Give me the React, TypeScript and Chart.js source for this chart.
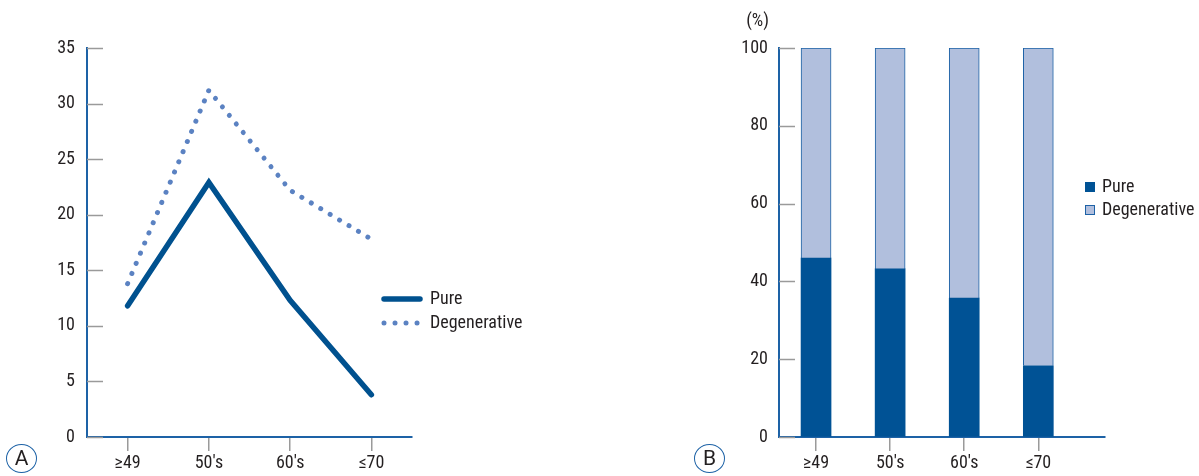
import React, { useEffect, useRef } from "react";
import { Chart, registerables } from "chart.js";

Chart.register(...registerables);

// ---------- data ----------
const categories = ["≥49", "50's", "60's", "≤70"];
const pureRate = [11.8, 22.9, 12.3, 3.8];
const degenerativeRate = [13.8, 31.2, 22.2, 17.8];
const rateTicks = { min: 0, max: 35, step: 5 };

const pureShare = [46.0, 43.2, 35.7, 18.3];
const degenerativeShare = [54.0, 56.8, 64.3, 81.7];
const shareTicks = { min: 0, max: 100, step: 20 };
const shareUnit = "(%)";

// ---------- style ----------
const FONT = "'Liberation Sans Narrow', 'Roboto Condensed', 'Arial Narrow', Roboto, sans-serif";
const TEXT = "#231f20";
const AXIS_BLUE = "#1d62a6";
const TICK_GRAY = "#9a9a9a";
const PURE_BLUE = "#00518f";
const DEGEN_LINE = "#5b82c2";
const BAR_PURE = "#005295";
const BAR_DEGEN = "#b1bfdd";
const fontSpec = { family: FONT, size: 18 };

const innerTicks = {
  id: "innerTicks",
  beforeDatasetsDraw(chart: any) {
    const y = chart.scales.y;
    const ctx = chart.ctx;
    ctx.save();
    ctx.strokeStyle = TICK_GRAY;
    ctx.lineWidth = 1.5;
    y.ticks.forEach((t: any) => {
      const py = Math.round(y.getPixelForValue(t.value)) + 0.5;
      ctx.beginPath();
      ctx.moveTo(chart.chartArea.left, py);
      ctx.lineTo(chart.chartArea.left + 16, py);
      ctx.stroke();
    });
    ctx.restore();
  },
};

const lineLegend = {
  id: "lineLegend",
  afterDraw(chart: any) {
    const ctx = chart.ctx;
    const { right, top } = chart.chartArea;
    ctx.save();
    chart.data.datasets.forEach((ds: any, i: number) => {
      const y = top + 251 + i * 24;
      const x0 = right - 28;
      ctx.strokeStyle = ds.borderColor;
      ctx.lineWidth = ds.borderWidth;
      ctx.lineCap = "round";
      ctx.setLineDash(ds.borderDash || []);
      ctx.beginPath();
      ctx.moveTo(x0, y);
      ctx.lineTo(x0 + 36, y);
      ctx.stroke();
      ctx.setLineDash([]);
      ctx.fillStyle = TEXT;
      ctx.font = `18px ${FONT}`;
      ctx.textBaseline = "middle";
      ctx.textAlign = "left";
      ctx.fillText(ds.label, x0 + 46, y);
    });
    ctx.restore();
  },
};

const barLegend = {
  id: "barLegend",
  afterDraw(chart: any) {
    const ctx = chart.ctx;
    const { right, top } = chart.chartArea;
    ctx.save();
    chart.data.datasets.forEach((ds: any, i: number) => {
      const y = top + 139 + i * 23;
      const x0 = right - 20;
      ctx.fillStyle = ds.backgroundColor;
      ctx.fillRect(x0, y - 5, 10, 10);
      if (ds.borderWidth) {
        ctx.strokeStyle = ds.borderColor;
        ctx.lineWidth = 1;
        ctx.strokeRect(x0 + 0.5, y - 4.5, 9, 9);
      }
      ctx.fillStyle = TEXT;
      ctx.font = `18px ${FONT}`;
      ctx.textBaseline = "middle";
      ctx.textAlign = "left";
      ctx.fillText(ds.label, x0 + 17, y);
    });
    ctx.fillStyle = TEXT;
    ctx.font = `18px ${FONT}`;
    ctx.textAlign = "right";
    ctx.textBaseline = "middle";
    ctx.fillText(shareUnit, chart.chartArea.left - 10, chart.chartArea.top - 27);
    ctx.restore();
  },
};

function LineChart() {
  const ref = useRef<HTMLCanvasElement>(null);
  useEffect(() => {
    const chart = new Chart(ref.current as HTMLCanvasElement, {
      type: "line",
      data: {
        labels: categories,
        datasets: [
          {
            label: "Pure",
            data: pureRate,
            borderColor: PURE_BLUE,
            borderWidth: 5.5,
            borderCapStyle: "round",
            borderJoinStyle: "miter",
            pointRadius: 0,
            tension: 0,
          },
          {
            label: "Degenerative",
            data: degenerativeRate,
            borderColor: DEGEN_LINE,
            borderWidth: 5,
            borderDash: [0.01, 11],
            borderCapStyle: "round",
            pointRadius: 0,
            tension: 0,
          },
        ],
      } as any,
      options: {
        responsive: false,
        animation: false,
        layout: { padding: { top: 48, right: 148, left: 0, bottom: 0 } },
        plugins: { legend: { display: false }, tooltip: { enabled: false } },
        scales: {
          x: {
            offset: true,
            grid: { display: true, drawOnChartArea: false, drawTicks: true, tickLength: 14, color: TICK_GRAY, lineWidth: 1.5 },
            border: { color: AXIS_BLUE, width: 2 },
            ticks: { font: fontSpec, color: TEXT, padding: 2, maxRotation: 0 },
            afterFit(s: any) { s.height = 39; },
          },
          y: {
            min: rateTicks.min,
            max: rateTicks.max,
            ticks: { stepSize: rateTicks.step, font: fontSpec, color: TEXT, padding: 12 },
            grid: { display: true, drawOnChartArea: false, drawTicks: false },
            border: { color: AXIS_BLUE, width: 2 },
            afterFit(s: any) { s.width = 87; },
          },
        },
      } as any,
      plugins: [innerTicks, lineLegend],
    });
    return () => chart.destroy();
  }, []);
  return <canvas ref={ref} width={560} height={476} style={{ position: "absolute", left: 0, top: 0, width: 560, height: 476 }} />;
}

function BarChart() {
  const ref = useRef<HTMLCanvasElement>(null);
  useEffect(() => {
    const chart = new Chart(ref.current as HTMLCanvasElement, {
      type: "bar",
      data: {
        datasets: [
          {
            label: "Pure",
            data: pureShare.map((v, i) => ({ x: i, y: v })),
            backgroundColor: BAR_PURE,
            borderWidth: 0,
            barThickness: 30,
          },
          {
            label: "Degenerative",
            data: degenerativeShare.map((v, i) => ({ x: i, y: v })),
            backgroundColor: BAR_DEGEN,
            borderColor: AXIS_BLUE,
            borderWidth: 1,
            borderSkipped: "bottom",
            barThickness: 30,
          },
        ],
      } as any,
      options: {
        responsive: false,
        animation: false,
        layout: { padding: { top: 48, right: 94, left: 0, bottom: 0 } },
        plugins: { legend: { display: false }, tooltip: { enabled: false } },
        scales: {
          x: {
            type: "linear",
            stacked: true,
            offset: false,
            min: -0.5,
            max: 3.9,
            afterBuildTicks(s: any) { s.ticks = categories.map((_, i) => ({ value: i })); },
            grid: { display: true, offset: false, drawOnChartArea: false, drawTicks: true, tickLength: 14, color: TICK_GRAY, lineWidth: 1.5 },
            border: { color: AXIS_BLUE, width: 2 },
            ticks: { font: fontSpec, color: TEXT, padding: 2, maxRotation: 0, callback: (v: any) => categories[v] },
            afterFit(s: any) { s.height = 39; },
          },
          y: {
            stacked: true,
            min: shareTicks.min,
            max: shareTicks.max,
            ticks: { stepSize: shareTicks.step, font: fontSpec, color: TEXT, padding: 11 },
            grid: { display: true, drawOnChartArea: false, drawTicks: false },
            border: { color: AXIS_BLUE, width: 2 },
            afterFit(s: any) { s.width = 179; },
          },
        },
      } as any,
      plugins: [innerTicks, barLegend],
    });
    return () => chart.destroy();
  }, []);
  return <canvas ref={ref} width={599} height={476} style={{ position: "absolute", left: 600, top: 0, width: 599, height: 476 }} />;
}

function Badge({ letter, cx, cy }: { letter: string; cx: number; cy: number }) {
  return (
    <div
      style={{
        position: "absolute",
        left: cx - 16,
        top: cy - 15,
        width: 29,
        height: 27,
        border: `1.5px solid ${AXIS_BLUE}`,
        borderRadius: "50%",
        display: "flex",
        alignItems: "center",
        justifyContent: "center",
        fontFamily: "Roboto, 'Liberation Sans', Arial, sans-serif",
        fontSize: 21,
        color: TEXT,
        lineHeight: 1,
      }}
    >
      {letter}
    </div>
  );
}

export default function App() {
  return (
    <div style={{ position: "absolute", left: 0, top: 0, width: 1199, height: 476, background: "#fff", overflow: "hidden" }}>
      <LineChart />
      <BarChart />
      <Badge letter="A" cx={22} cy={459} />
      <Badge letter="B" cx={710} cy={459} />
    </div>
  );
}
